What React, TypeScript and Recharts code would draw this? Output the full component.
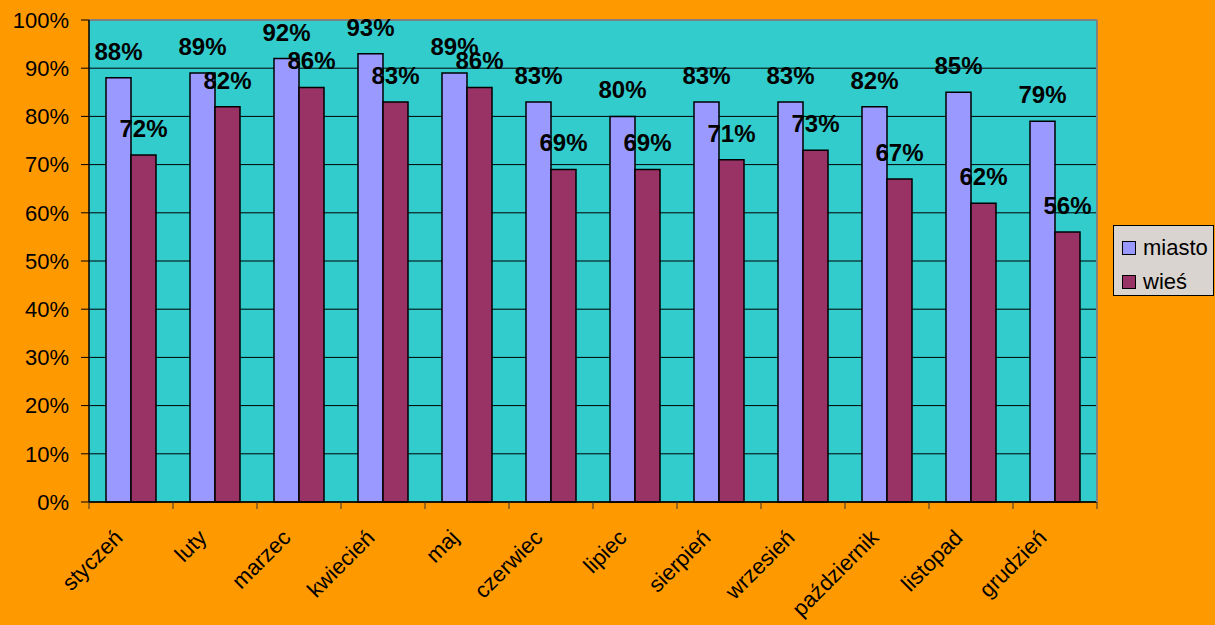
import React from 'react';
import { BarChart, Bar, XAxis, YAxis, CartesianGrid, LabelList, ReferenceLine } from 'recharts';

const months = ['styczeń', 'luty', 'marzec', 'kwiecień', 'maj', 'czerwiec', 'lipiec', 'sierpień', 'wrzesień', 'październik', 'listopad', 'grudzień'];
const miasto = [88, 89, 92, 93, 89, 83, 80, 83, 83, 82, 85, 79];
const wies = [72, 82, 86, 83, 86, 69, 69, 71, 73, 67, 62, 56];
const yTicks = [0, 10, 20, 30, 40, 50, 60, 70, 80, 90, 100];

const data = months.map((m, i) => ({ month: m, miasto: miasto[i], wies: wies[i] }));

const FONT = '"Liberation Sans", Arial, sans-serif';
const BAND = 84;

const MonthTick = ({ x, y, payload, index }: any) => {
  const tx = x - 7;
  const ty = y + 37;
  return (
    <g>
      <line x1={x - BAND / 2} y1={y} x2={x - BAND / 2} y2={y + 7} stroke="#333" />
      {index === months.length - 1 && (
        <line x1={x + BAND / 2} y1={y} x2={x + BAND / 2} y2={y + 7} stroke="#333" />
      )}
      <text
        x={tx}
        y={ty}
        textAnchor="end"
        transform={`rotate(-45, ${tx}, ${ty})`}
        fontSize={22}
        fontFamily={FONT}
        fill="#000"
      >
        {payload.value}
      </text>
    </g>
  );
};

const series = [
  { name: 'miasto', color: '#9999FF' },
  { name: 'wieś', color: '#993366' },
];

const LegendBox = () => (
  <div
    style={{
      position: 'absolute',
      left: 1113,
      top: 225,
      width: 101,
      height: 71,
      background: '#D9D4CF',
      border: '1px solid #000',
      fontFamily: FONT,
      fontSize: 22,
      color: '#000',
      boxSizing: 'border-box',
    }}
  >
    {series.map((it, i) => (
      <div
        key={it.name}
        style={{
          position: 'absolute',
          left: 8,
          top: 9 + i * 34,
          height: 26,
          display: 'flex',
          alignItems: 'center',
        }}
      >
        <span style={{ width: 12, height: 12, background: it.color, border: '1px solid #000', marginRight: 7 }} />
        <span>{it.name}</span>
      </div>
    ))}
  </div>
);

const labelStyle = { fontSize: 24, fontWeight: 'bold', fontFamily: FONT, fill: '#000' };

export default function App() {
  return (
    <div style={{ position: 'absolute', left: 0, top: 0, width: 1215, height: 625, background: '#FF9900' }}>
      <BarChart
        width={1215}
        height={625}
        data={data}
        margin={{ top: 20, right: 118, left: 0, bottom: 0 }}
        barGap={0}
        barCategoryGap={17}
      >
        <CartesianGrid vertical={false} stroke="#000" fill="#33CCCC" />
        <XAxis
          dataKey="month"
          interval={0}
          tickLine={false}
          tickSize={0}
          tickMargin={0}
          tick={<MonthTick />}
          axisLine={{ stroke: '#000', strokeWidth: 1.5 }}
          height={123}
        />
        <YAxis
          width={89}
          domain={[0, 100]}
          ticks={yTicks}
          interval={0}
          tickFormatter={(v: number) => `${v}%`}
          tick={{ fill: '#000', fontSize: 22, fontFamily: FONT }}
          tickSize={8}
          tickMargin={12}
          tickLine={{ stroke: '#000' }}
          axisLine={{ stroke: '#000', strokeWidth: 1.5 }}
        />
        <ReferenceLine y={100} stroke="#808080" strokeWidth={2} />
        <Bar dataKey="miasto" name="miasto" fill="#9999FF" stroke="#000" strokeWidth={1.5} isAnimationActive={false}>
          <LabelList dataKey="miasto" position="top" offset={18} formatter={(v: any) => `${v}%`} style={labelStyle} />
        </Bar>
        <Bar dataKey="wies" name="wieś" fill="#993366" stroke="#000" strokeWidth={1.5} isAnimationActive={false}>
          <LabelList dataKey="wies" position="top" offset={18} formatter={(v: any) => `${v}%`} style={labelStyle} />
        </Bar>
      </BarChart>
      <div style={{ position: 'absolute', left: 1096, top: 20, width: 2, height: 482, background: '#808080' }} />
      <LegendBox />
    </div>
  );
}
